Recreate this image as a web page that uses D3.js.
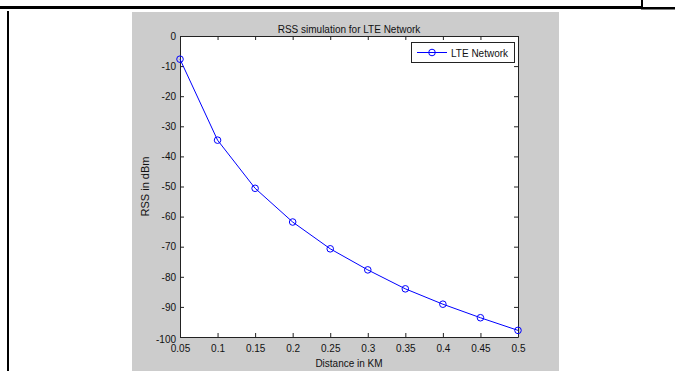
<!DOCTYPE html>
<html>
<head>
<meta charset="utf-8">
<script src="https://cdn.jsdelivr.net/npm/d3@7"></script>
<style>
body{margin:0;background:#fff}
text{font-family:"Liberation Sans",Arial,sans-serif;fill:#111}
</style>
</head>
<body>
<svg id="graph"></svg>
<script>
// values
var distance = [0.05, 0.1, 0.15, 0.2, 0.25, 0.3, 0.35, 0.4, 0.45, 0.5]
var rss = [-7.7, -34.6, -50.6, -61.8, -70.7, -77.7, -84, -89.1, -93.6, -97.8]
var xTicks = [0.05, 0.1, 0.15, 0.2, 0.25, 0.3, 0.35, 0.4, 0.45, 0.5]
var yTicks = [0, -10, -20, -30, -40, -50, -60, -70, -80, -90, -100]
var seriesName = "LTE Network"

var svgw = 675
var svgh = 371

var makeTranslateString = function(x, y)
{
    return "translate(" + x + "," + y + ")"
}

var drawPage = function(svg)
{
    // figure background
    svg.append("rect")
    .attr("x", 132).attr("y", 12)
    .attr("width", 427).attr("height", svgh - 12)
    .attr("fill", "#cccccc")

    // table borders around the figure
    svg.append("rect").attr("x", 0).attr("y", 6).attr("width", 641).attr("height", 3).attr("fill", "#000")
    svg.append("rect").attr("x", 641).attr("y", 7).attr("width", 34).attr("height", 2.5).attr("fill", "#000")
    svg.append("rect").attr("x", 641).attr("y", 0).attr("width", 2).attr("height", 8).attr("fill", "#000")
    svg.append("rect").attr("x", 7).attr("y", 11).attr("width", 2).attr("height", svgh - 11).attr("fill", "#000")
}

var drawAxes = function(target, graphDim, xScale, yScale)
{
    target.append("rect")
    .attr("width", graphDim.width)
    .attr("height", graphDim.height)
    .attr("fill", "#fff")

    var yAxis = d3.axisLeft(yScale).tickValues(yTicks).tickSizeInner(-4).tickSizeOuter(0).tickPadding(4)
        .tickFormat(function(d){return String(d)})
    var gy = target.append("g").call(yAxis)
    // matlab pushes the bottom label down a little
    gy.selectAll("text").filter(function(d){return d == -100}).attr("dy", "0.55em")

    var xAxis = d3.axisBottom(xScale).tickValues(xTicks).tickSizeInner(-4).tickSizeOuter(0).tickPadding(8)
        .tickFormat(function(d){return String(d)})
    target.append("g")
    .attr("transform", makeTranslateString(0, graphDim.height))
    .call(xAxis)

    // box ticks on top and right
    target.append("g")
    .call(d3.axisTop(xScale).tickValues(xTicks).tickSizeInner(-4).tickSizeOuter(0).tickFormat(""))
    target.append("g")
    .attr("transform", makeTranslateString(graphDim.width, 0))
    .call(d3.axisRight(yScale).tickValues(yTicks).tickSizeInner(-4).tickSizeOuter(0).tickFormat(""))

    target.selectAll(".domain, .tick line").attr("stroke", "#222")
    target.selectAll(".tick text")
    .style("font-family", "'Liberation Sans', Arial, sans-serif")
    .style("font-size", "10px")
    .attr("fill", "#111")
}

var drawLine = function(target, xScale, yScale)
{
    var points = distance.map(function(d, i){return {x: d, y: rss[i]}})

    var line = d3.line()
    .x(function(d){return xScale(d.x)})
    .y(function(d){return yScale(d.y)})

    target.append("path")
    .datum(points)
    .attr("d", line)
    .attr("fill", "none")
    .attr("stroke", "#0000ff")
    .attr("stroke-width", 1)

    target.selectAll("circle.pt")
    .data(points)
    .enter()
    .append("circle")
    .attr("class", "pt")
    .attr("cx", function(d){return xScale(d.x)})
    .attr("cy", function(d){return yScale(d.y)})
    .attr("r", 3.3)
    .attr("fill", "none")
    .attr("stroke", "#0000ff")
    .attr("stroke-width", 1)
}

var drawLegend = function(target)
{
    var leg = target.append("g").attr("transform", makeTranslateString(231, 6))
    leg.append("rect")
    .attr("x", 0.5).attr("y", 0.5)
    .attr("width", 103).attr("height", 20)
    .attr("fill", "#fff")
    .attr("stroke", "#222")
    leg.append("line")
    .attr("x1", 6).attr("x2", 36).attr("y1", 10.5).attr("y2", 10.5)
    .attr("stroke", "#0000ff")
    leg.append("circle")
    .attr("cx", 21).attr("cy", 10.5).attr("r", 3.3)
    .attr("fill", "none").attr("stroke", "#0000ff")
    leg.append("text")
    .text(seriesName)
    .attr("x", 40).attr("y", 14.5)
    .style("font-size", "10px")
}

var drawLabels = function(svg, graphDim, margins)
{
    svg.append("text")
    .text("RSS simulation for " + seriesName)
    .attr("text-anchor", "middle")
    .attr("x", margins.left + graphDim.width / 2)
    .attr("y", 33)
    .style("font-size", "10px")

    svg.append("text")
    .text("Distance in KM")
    .attr("text-anchor", "middle")
    .attr("x", margins.left + graphDim.width / 2)
    .attr("y", 367)
    .style("font-size", "10px")

    svg.append("text")
    .attr("transform", makeTranslateString(149, margins.top + graphDim.height / 2) + " rotate(-90)")
    .text("RSS in dBm")
    .attr("text-anchor", "middle")
    .style("font-size", "11px")
}

var graphDim = {width: 338, height: 301}
var margins = {left: 180, top: 36}

var svg = d3.select("#graph")
.attr("width", svgw)
.attr("height", svgh)

drawPage(svg)

var target = svg.append("g")
.attr("transform", makeTranslateString(margins.left, margins.top))

var xScale = d3.scaleLinear()
.domain([0.05, 0.5])
.range([0, graphDim.width])

var yScale = d3.scaleLinear()
.domain([-100, 0])
.range([graphDim.height, 0])

drawAxes(target, graphDim, xScale, yScale)
drawLine(target, xScale, yScale)
drawLegend(target)
drawLabels(svg, graphDim, margins)
</script>
</body>
</html>
